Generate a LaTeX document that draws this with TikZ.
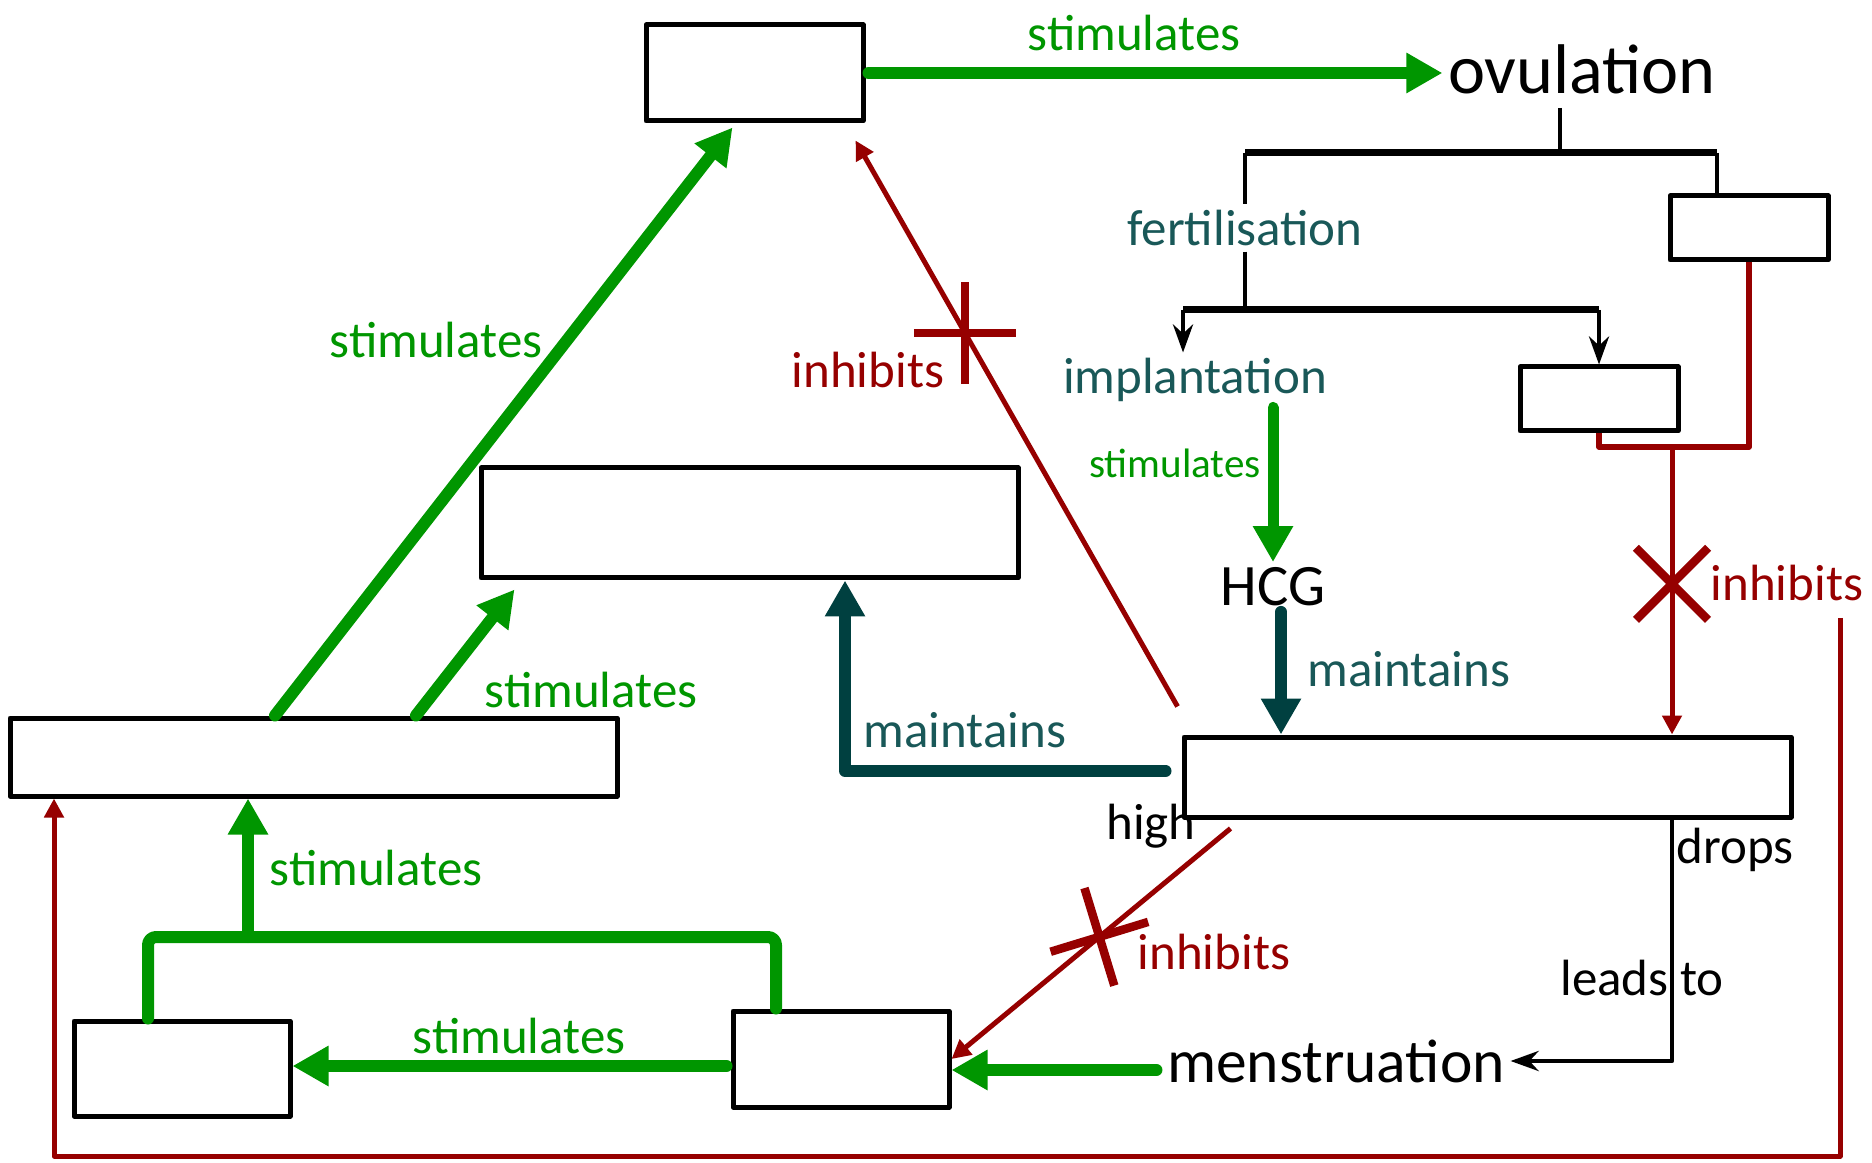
\documentclass[tikz,border=0pt]{standalone}
\usepackage{fontspec}
\setmainfont{Carlito}
\usetikzlibrary{arrows.meta,calc}

\definecolor{stimgreen}{RGB}{0,150,0}
\definecolor{mainteal}{RGB}{0,64,64}
\definecolor{tealtext}{RGB}{25,88,88}
\definecolor{inhred}{RGB}{150,0,0}

\begin{document}
\begin{tikzpicture}[
		x=0.1mm, y=-0.1mm,
		line join=round,
		>=Stealth,
		box/.style={draw, line width=0.5mm, fill=white, inner sep=0pt},
		lab/.style={font=\fontsize{14.5}{17}\selectfont, inner sep=0.5mm},
		biglab/.style={font=\fontsize{20}{24}\selectfont, inner sep=0.5mm},
		stim/.style={stimgreen, line width=1.2mm, line cap=round, -{Triangle[length=3.6mm,width=3.8mm]}},
		gline/.style={stimgreen, line width=1.2mm, line cap=round, rounded corners=0.8mm},
		maint/.style={mainteal, line width=1.2mm, line cap=round, -{Triangle[length=3.6mm,width=3.8mm]}},
		thin/.style={black, line width=0.45mm},
		branch/.style={thin, -{Stealth[length=2.8mm,width=2mm]}},
		bar/.style={black, line width=0.7mm},
		inh/.style={inhred, line width=0.5mm},
		inharrow/.style={inh, -{Triangle[length=1.9mm,width=1.9mm]}},
		inhcross/.pic={\draw[inhred, line width=0.85mm] (-5.1mm,0) -- (5.1mm,0) (0,-5.1mm) -- (0,5.1mm);}
	]
	\useasboundingbox (0,0) rectangle (1872,1163);
	
	% Boxes
	\foreach \name/\cx/\cy/\w/\h in {
		lhbox/754.5/73/21.7/9.6,
		clbox/1749/228/15.8/6.4,
		degbox/1599/399/15.8/6.4,
		endobox/749.5/523/53.7/11.0,
		pitbox/313.5/757/60.7/7.8,
		progbox/1487.5/777/60.7/8.0,
		fshbox/182/1068.5/21.6/9.5,
		oestbox/841/1059/21.6/9.6} {
		\node[box, minimum width=\w mm, minimum height=\h mm] (\name) at (\cx,\cy) {};
	}
	
	% Words
	\node[biglab] (ovul) at (1582,69) {ovulation};
	\node[lab, text=tealtext] (fert) at (1245,228) {fertilisation};
	\node[lab, text=tealtext] (impl) at (1195,380) {implantation};
	\node[font=\fontsize{16.7}{20}\selectfont, inner sep=0.5mm] (hcg) at (1273,587) {HCG};
	\node[font=\fontsize{17.5}{21}\selectfont, inner sep=0.5mm] (menstr) at (1336,1061) {menstruation};
	
	% Labels
	\node[lab, text=stimgreen] (st1) at (1134,33) {stimulates};
	\node[lab, text=stimgreen] (st2) at (436,340) {stimulates};
	\node[lab, text=stimgreen] (st3) at (591,690) {stimulates};
	\node[lab, text=stimgreen] (st4) at (376,868) {stimulates};
	\node[lab, text=stimgreen] (st5) at (519,1036) {stimulates};
	\node[font=\fontsize{11.7}{14}\selectfont, text=stimgreen] (st6) at (1175,463) {stimulates};
	\node[lab, text=tealtext] (mt1) at (1409,669) {maintains};
	\node[lab, text=tealtext] (mt2) at (965,730) {maintains};
	\node[lab, text=inhred] (in1) at (868,370) {inhibits};
	\node[lab, text=inhred] (in2) at (1787,583) {inhibits};
	\node[lab, text=inhred] (in3) at (1214,952) {inhibits};
	\node[lab] (high) at (1151,826) {high};
	\node[lab] (drops) at (1735,850) {drops};
	\node[lab] (leads) at (1642,978) {leads to};
	
	% Ovulation branches
	\coordinate (ovbar) at (1560,153);
	\coordinate (ovright) at (1717,153);
	\draw[thin] (ovbar |- 0,108) -- (ovbar);
	\draw[bar] (fert.north |- ovbar) -- (ovright);
	\draw[thin] (fert.north |- ovbar) -- (fert.north);
	\draw[thin] (ovright) -- (ovright |- clbox.north);
	
	% Fertilisation branches
	\coordinate (fbarL) at (1183,310);
	\coordinate (fbarR) at (degbox.north |- fbarL);
	\draw[thin] (fert.south) -- (fert.south |- fbarL);
	\draw[bar] (fbarL) -- (fbarR);
	\draw[branch] (fbarL) -- (fbarL |- impl.north);
	\draw[branch] (fbarR) -- (degbox.north);
	
	% Green arrows
	\draw[stim, shorten <=0.3mm] (lhbox.east) -- (lhbox.east -| ovul.west);
	\draw[stim, line width=1.1mm] (impl.south -| hcg.north) -- (hcg.north);
	\draw[stim] (275,0 |- pitbox.north) -- ($(lhbox.south west)+(89,4)$);
	\draw[stim] (416,0 |- pitbox.north) -- ($(endobox.south west)+(36,9)$);
	\draw[gline] (148,0 |- fshbox.north) -- (148,937) -- (776,937) -- (776,0 |- oestbox.north);
	\draw[stim] (248,937) -- (248,0 |- pitbox.south);
	\draw[stim, shorten <=0.4mm] (oestbox.west |- 0,1066) -- (fshbox.east |- 0,1066);
	\draw[stim, shorten <=0.5mm] (menstr.west |- 0,1070) -- (oestbox.east |- 0,1070);
	
	% Maintains
	\coordinate (mcorner) at (845,771);
	\draw[maint] (hcg.south -| 1281,0) -- (1281,0 |- progbox.north);
	\draw[maint, shorten <=1.6mm] (progbox.west |- mcorner) -- (mcorner) -- (mcorner |- endobox.south);
	
	% Inhibition
	\coordinate (tstart) at ($(progbox.north west)+(-4,-28)$);
	\draw[inharrow] (tstart) -- ($(lhbox.south east)+(-10,17)$);
	\path (tstart) -- ($(lhbox.south east)+(-10,17)$) coordinate[pos=0.66] (xtop);
	\pic at (xtop) {inhcross};
	
	\coordinate (redj) at (1672,447);
	\draw[inh, line width=0.55mm] (clbox.south) |- (degbox.south |- redj) -- (degbox.south);
	\draw[inharrow] (redj) -- (redj |- progbox.north);
	\path (redj) -- (redj |- progbox.north) coordinate[pos=0.476] (xright);
	\pic[rotate=45] at (xright) {inhcross};
	
	\coordinate (hstart) at ($(progbox.south west)+(49,9)$);
	\draw[inharrow] (hstart) -- (oestbox.east);
	\path (hstart) -- (oestbox.east) coordinate[pos=0.47] (xlow);
	\pic[rotate=17] at (xlow) {inhcross};
	
	\coordinate (loopstart) at (1840,618);
	\draw[inharrow] (loopstart) |- (54,1156) -- (54,0 |- pitbox.south);
	
	% Drop
	\draw[branch] (1672,0 |- progbox.south) |- (menstr.east);
	
\end{tikzpicture}
\end{document}
